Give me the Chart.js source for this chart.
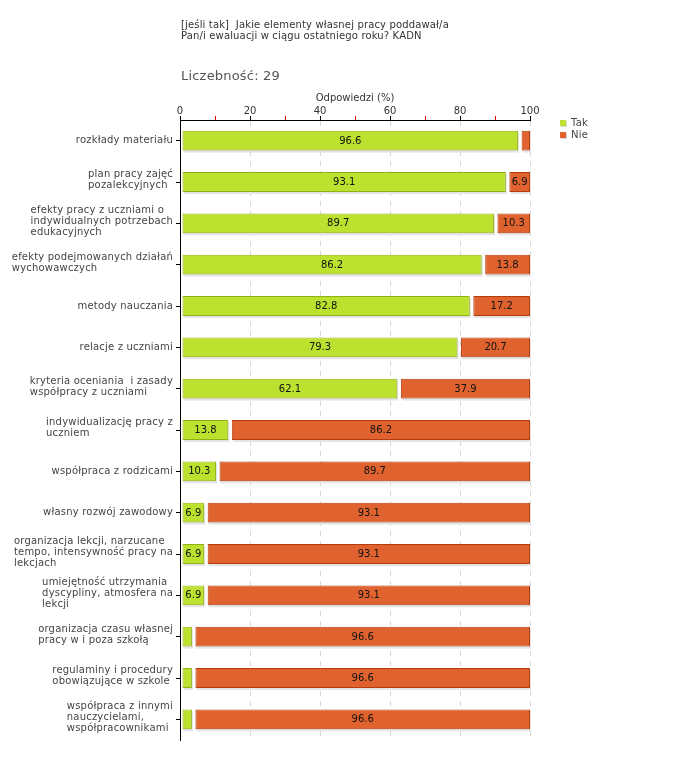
<!DOCTYPE html>
<html><head><meta charset="utf-8">
<script src="https://cdn.jsdelivr.net/npm/chart.js@4"></script>
<style>html,body{margin:0;padding:0;background:#fff}canvas{display:block}</style>
</head><body>
<canvas id="c" width="680" height="760"></canvas>
<script>
const titleLines = ["[jeśli tak]  Jakie elementy własnej pracy poddawał/a", "Pan/i ewaluacji w ciągu ostatniego roku? KADN"];
const countLabel = "Liczebność: 29";
const axisTitle = "Odpowiedzi (%)";
const categories = [
  ["rozkłady materiału"],
  ["plan pracy zajęć", "pozalekcyjnych"],
  ["efekty pracy z uczniami o", "indywidualnych potrzebach", "edukacyjnych"],
  ["efekty podejmowanych działań", "wychowawczych"],
  ["metody nauczania"],
  ["relacje z uczniami"],
  ["kryteria oceniania  i zasady", "współpracy z uczniami"],
  ["indywidualizację pracy z", "uczniem"],
  ["współpraca z rodzicami"],
  ["własny rozwój zawodowy"],
  ["organizacja lekcji, narzucane", "tempo, intensywność pracy na", "lekcjach"],
  ["umiejętność utrzymania", "dyscypliny, atmosfera na", "lekcji"],
  ["organizacja czasu własnej", "pracy w i poza szkołą"],
  ["regulaminy i procedury", "obowiązujące w szkole"],
  ["współpraca z innymi", "nauczycielami,", "współpracownikami"]
];
const seriesNames = ["Tak", "Nie"];
const takValues = [96.6, 93.1, 89.7, 86.2, 82.8, 79.3, 62.1, 13.8, 10.3, 6.9, 6.9, 6.9, 3.4, 3.4, 3.4];
const nieValues = [3.4, 6.9, 10.3, 13.8, 17.2, 20.7, 37.9, 86.2, 89.7, 93.1, 93.1, 93.1, 96.6, 96.6, 96.6];
const xMin = 0, xMax = 100, xMajorStep = 20, xMinorStep = 10;

const FONT = "'DejaVu Sans', Verdana, sans-serif";
const colors = {
  tak: {fill: '#bde12f', border: '#8fb212'},
  nie: {fill: '#e0632f', border: '#b33d0e'}
};

const decor = {
  id: 'decor',
  afterDatasetUpdate(chart, args) {
    const meta = args.meta;
    const shift = args.index === 0 ? 2 : 3.5;
    meta.data.forEach(el => { el.base = el.base + shift; });
  },
  beforeDatasetsDraw(chart) {
    const ctx = chart.ctx;
    ctx.save();
    ctx.fillStyle = '#e4e4e4';
    chart.data.datasets.forEach((ds, di) => {
      chart.getDatasetMeta(di).data.forEach(el => {
        const l = Math.min(el.x, el.base), w = Math.abs(el.x - el.base);
        ctx.fillRect(l + 1, el.y - el.height / 2 + 2, w, el.height);
      });
    });
    ctx.restore();
  },
  afterDatasetsDraw(chart) {
    const ctx = chart.ctx;
    ctx.save();
    ctx.font = '10px ' + FONT;
    ctx.fillStyle = '#111';
    ctx.textAlign = 'center';
    ctx.textBaseline = 'middle';
    chart.data.datasets.forEach((ds, di) => {
      chart.getDatasetMeta(di).data.forEach((el, i) => {
        const v = ds.data[i];
        if (v >= 5) ctx.fillText(v.toFixed(1), (el.x + el.base) / 2, el.y + 0.5);
      });
    });
    ctx.restore();
  },
  afterDraw(chart) {
    const ctx = chart.ctx;
    ctx.save();
    // title
    ctx.font = '10px ' + FONT;
    ctx.letterSpacing = '0.15px';
    ctx.fillStyle = '#333';
    ctx.textAlign = 'left';
    ctx.textBaseline = 'alphabetic';
    ctx.fillText(titleLines[0], 181, 28);
    ctx.fillText(titleLines[1], 181, 39);
    ctx.font = '13px ' + FONT;
    ctx.letterSpacing = '0.2px';
    ctx.fillStyle = '#555';
    ctx.fillText(countLabel, 181, 80);
    // y labels
    const ys = chart.scales.y;
    ctx.font = '10px ' + FONT;
    ctx.letterSpacing = '0.2px';
    ctx.fillStyle = '#444';
    ctx.textBaseline = 'middle';
    const lh = 11;
    chart.data.labels.forEach((lab, i) => {
      const lines = Array.isArray(lab) ? lab : [lab];
      const w = Math.max(...lines.map(s => ctx.measureText(s).width));
      const x = ys.right - 7 - w;
      const yc = ys.getPixelForTick(i) - (lines.length > 1 ? 2 : 0);
      lines.forEach((s, k) => {
        ctx.fillText(s, x, yc + (k - (lines.length - 1) / 2) * lh);
      });
    });
    // legend
    const lx = 560;
    ctx.letterSpacing = '0.2px';
    chart.data.datasets.forEach((ds, di) => {
      const y = 120 + di * 12;
      ctx.fillStyle = '#d6d6d6';
      ctx.fillRect(lx + 1, y + 1, 6, 6);
      ctx.fillStyle = ds.backgroundColor;
      ctx.fillRect(lx, y, 6, 6);
      ctx.fillStyle = '#444';
      ctx.font = '10px ' + FONT;
      ctx.textBaseline = 'middle';
      ctx.fillText(ds.label, lx + 11, y + 3);
    });
    ctx.restore();
  }
};

new Chart(document.getElementById('c'), {
  type: 'bar',
  data: {
    labels: categories,
    datasets: [
      {label: seriesNames[0], data: takValues, backgroundColor: colors.tak.fill, borderColor: colors.tak.border, borderWidth: 1, borderSkipped: false},
      {label: seriesNames[1], data: nieValues, backgroundColor: colors.nie.fill, borderColor: colors.nie.border, borderWidth: 1, borderSkipped: false}
    ]
  },
  options: {
    responsive: false,
    animation: false,
    events: [],
    indexAxis: 'y',
    devicePixelRatio: 1,
    datasets: {bar: {categoryPercentage: 1, barPercentage: 0.48}},
    layout: {padding: {left: 0, right: 150, top: 88, bottom: 20}},
    plugins: {legend: {display: false}, tooltip: {enabled: false}, title: {display: false}},
    scales: {
      x: {
        position: 'top', stacked: true, min: xMin, max: xMax,
        afterFit: s => { s.height = 32; },
        title: {display: true, text: axisTitle, color: '#333', font: {family: FONT, size: 10}, padding: {top: 4, bottom: 0}},
        ticks: {
          stepSize: xMinorStep, autoSkip: false, maxRotation: 0, padding: -1,
          color: '#333', font: {family: FONT, size: 10},
          callback: v => (v % xMajorStep === 0 ? String(v) : '')
        },
        grid: {
          drawTicks: true, tickLength: 4, lineWidth: 1,
          color: c => (c.tick && c.tick.value % xMajorStep === 0 && c.tick.value > xMin) ? '#d6d6d6' : 'rgba(0,0,0,0)',
          tickColor: c => (c.tick && c.tick.value % xMajorStep === 0) ? '#000' : '#e00000',
          tickBorderDash: []
        },
        border: {display: true, color: '#000', width: 1, dash: [5, 5]}
      },
      y: {
        stacked: true,
        afterFit: s => { s.width = 180; },
        ticks: {display: false},
        grid: {display: true, offset: false, drawOnChartArea: false, drawTicks: true, tickLength: 4, tickColor: '#000'},
        border: {display: true, color: '#000', width: 1}
      }
    }
  },
  plugins: [decor]
});
</script>
</body></html>
